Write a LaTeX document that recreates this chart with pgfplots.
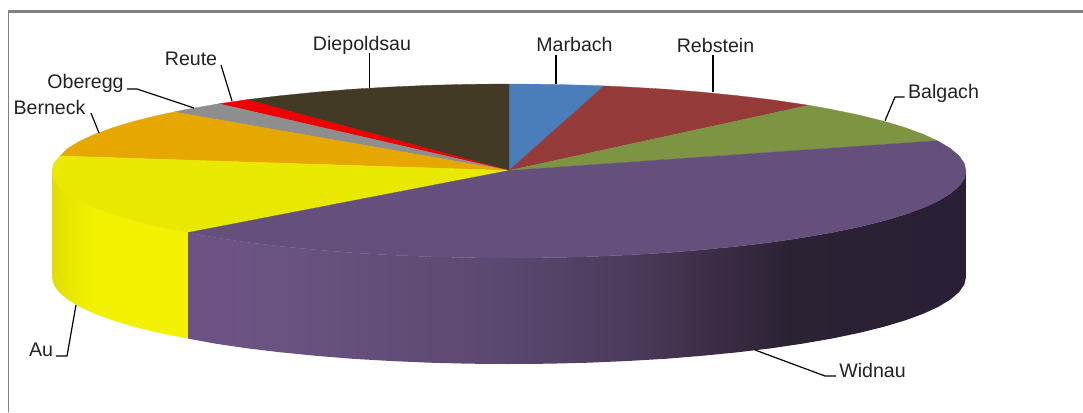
\documentclass[border=0pt]{standalone}
\usepackage{pgfplots}
\usepackage{fontspec}
\setmainfont{Liberation Sans}
\pgfplotsset{compat=1.18}
\definecolor{cMar}{HTML}{4A7EBB}
\definecolor{cReb}{HTML}{953B39}
\definecolor{cBal}{HTML}{7D9542}
\definecolor{cWid}{HTML}{654F7D}
\definecolor{cAu}{HTML}{E8E800}
\definecolor{cBer}{HTML}{E6A800}
\definecolor{cObe}{HTML}{8E8E8E}
\definecolor{cReu}{HTML}{EE0000}
\definecolor{cDie}{HTML}{433A26}
\definecolor{cTxt}{HTML}{222222}
\tikzset{lbl/.style={font=\fontsize{19.6}{23}\selectfont, text=cTxt, inner sep=0pt}}
\pgfdeclarehorizontalshading{widside}{100bp}{rgb(0bp)=(0.424,0.322,0.522); rgb(25bp)=(0.424,0.322,0.522); rgb(30.9bp)=(0.416,0.325,0.502); rgb(45bp)=(0.357,0.282,0.439); rgb(54bp)=(0.29,0.227,0.353); rgb(57.9bp)=(0.247,0.188,0.286); rgb(63.8bp)=(0.169,0.133,0.204); rgb(75bp)=(0.165,0.125,0.208); rgb(100bp)=(0.165,0.125,0.208)}
\pgfdeclarehorizontalshading{auside}{100bp}{rgb(0bp)=(0.87,0.87,0); rgb(25bp)=(0.87,0.87,0); rgb(34bp)=(0.92,0.92,0); rgb(41.5bp)=(0.95,0.95,0); rgb(100bp)=(0.95,0.95,0)}
\begin{document}
\begin{tikzpicture}
\begin{axis}[
  scale only axis, width=1083pt, height=412pt,
  xmin=0, xmax=1083, ymin=0, ymax=412, y dir=reverse,
  hide axis, no markers,
  every axis plot/.append style={forget plot, line join=round},
]
\path (axis cs:0,0) rectangle (axis cs:1083,412);
% frame
\addplot[color=black!50, line width=1.6pt] coordinates {(8.5,412) (8.5,11.5)};
\addplot[color=black!50, line width=2.6pt] coordinates {(7.7,11.5) (1083,11.5)};

% side walls
\addplot[draw=none, shading=auside] coordinates {(52,171)(53.7,178.6)(58.9,186.1)(67.6,193.5)(79.6,200.8)(94.8,207.8)(113.2,214.5)(134.6,220.9)(158.9,226.9)(188,232.6)(188,338.6)(158.9,332.9)(134.6,326.9)(113.2,320.5)(94.8,313.8)(79.6,306.8)(67.6,299.5)(58.9,292.1)(53.7,284.6)(52,277)(52,171)};
\addplot[draw=none, shading=widside] coordinates {(188,232.6)(215.2,237.6)(246.9,242.3)(280.5,246.3)(315.9,249.8)(352.7,252.8)(390.7,255)(429.6,256.7)(469.2,257.7)(509,258)(548.8,257.7)(588.4,256.7)(627.3,255)(665.3,252.8)(702.1,249.8)(737.5,246.3)(771.1,242.3)(802.8,237.6)(832.2,232.5)(859.1,226.9)(883.4,220.9)(904.8,214.5)(923.2,207.8)(938.4,200.8)(950.4,193.5)(959.1,186.1)(964.3,178.6)(966,171)(966,277)(964.3,284.6)(959.1,292.1)(950.4,299.5)(938.4,306.8)(923.2,313.8)(904.8,320.5)(883.4,326.9)(859.1,332.9)(832.2,338.5)(802.8,343.6)(771.1,348.3)(737.5,352.3)(702.1,355.8)(665.3,358.8)(627.3,361)(588.4,362.7)(548.8,363.7)(509,364)(469.2,363.7)(429.6,362.7)(390.7,361)(352.7,358.8)(315.9,355.8)(280.5,352.3)(246.9,348.3)(215.2,343.6)(188,338.6)(188,232.6)};

% top surface: slices
\addplot[fill=cMar, draw=cMar, line width=0.3pt] coordinates {(509,170.5)(509,84)(548.8,84.3)(588.4,85.3)(604,85.9)(509,170.5)};
\addplot[fill=cReb, draw=cReb, line width=0.3pt] coordinates {(509,170.5)(604,85.9)(627.3,87)(665.3,89.2)(702.1,92.2)(737.5,95.7)(771.1,99.7)(802.8,104.4)(808.8,105.3)(509,170.5)};
\addplot[fill=cBal, draw=cBal, line width=0.3pt] coordinates {(509,170.5)(808.8,105.3)(832.2,109.5)(859.1,115.1)(883.4,121.1)(904.8,127.5)(923.2,134.2)(937,140.7)(509,170.5)};
\addplot[fill=cDie, draw=cDie, line width=0.3pt] coordinates {(509,170.5)(246.9,99.7)(280.5,95.7)(315.9,92.2)(352.7,89.2)(390.7,87)(429.6,85.3)(469.2,84.3)(509,84)(509,170.5)};
\addplot[fill=cReu, draw=cReu, line width=0.3pt] coordinates {(509,170.5)(219,103.8)(246.9,99.7)(509,170.5)};
\addplot[fill=cObe, draw=cObe, line width=0.3pt] coordinates {(509,170.5)(174,112)(185.8,109.5)(215.2,104.4)(219,103.8)(509,170.5)};
\addplot[fill=cBer, draw=cBer, line width=0.3pt] coordinates {(509,170.5)(60,156)(67.6,148.5)(79.6,141.2)(94.8,134.2)(113.2,127.5)(134.6,121.1)(158.9,115.1)(174,112)(509,170.5)};
\addplot[fill=cAu, draw=cAu, line width=0.3pt] coordinates {(509,170.5)(188,232.6)(158.9,226.9)(134.6,220.9)(113.2,214.5)(94.8,207.8)(79.6,200.8)(67.6,193.5)(58.9,186.1)(53.7,178.6)(52,171)(53.7,163.4)(60,156)(509,170.5)};
\addplot[fill=cWid, draw=cWid, line width=0.3pt] coordinates {(509,170.5)(937,140.7)(938.4,141.2)(950.4,148.5)(959.1,155.9)(964.3,163.4)(966,171)(964.3,178.6)(959.1,186.1)(950.4,193.5)(938.4,200.8)(923.2,207.8)(904.8,214.5)(883.4,220.9)(859.1,226.9)(832.2,232.5)(802.8,237.6)(771.1,242.3)(737.5,246.3)(702.1,249.8)(665.3,252.8)(627.3,255)(588.4,256.7)(548.8,257.7)(509,258)(469.2,257.7)(429.6,256.7)(390.7,255)(352.7,252.8)(315.9,249.8)(280.5,246.3)(246.9,242.3)(215.2,237.6)(188,232.6)(509,170.5)};

% leader lines
\addplot[black, line width=1.2pt] coordinates {(556,55)(556,84)};
\addplot[black, line width=1.2pt] coordinates {(713,55)(713,92)};
\addplot[black, line width=1.2pt] coordinates {(904.5,97)(895,97)(885,120.7)};
\addplot[black, line width=1.2pt] coordinates {(369.7,53)(369.7,88)};
\addplot[black, line width=1.2pt] coordinates {(221,65)(232,101)};
\addplot[black, line width=1.2pt] coordinates {(127,89)(137,89)(194,108)};
\addplot[black, line width=1.2pt] coordinates {(91,113)(99,133)};
\addplot[black, line width=1.2pt] coordinates {(56,356)(67,356)(76,305)};
\addplot[black, line width=1.2pt] coordinates {(755,350)(825,376)(836,376)};

% labels
\node[lbl] at (axis cs:362,45) {Diepoldsau};
\node[lbl] at (axis cs:574.5,44.5) {Marbach};
\node[lbl] at (axis cs:715.5,45) {Rebstein};
\node[lbl] at (axis cs:943.5,93) {Balgach};
\node[lbl] at (axis cs:191,58.5) {Reute};
\node[lbl] at (axis cs:85.5,83.5) {Oberegg};
\node[lbl] at (axis cs:49.5,107.5) {Berneck};
\node[lbl] at (axis cs:41,350) {Au};
\node[lbl] at (axis cs:872.5,370.5) {Widnau};
\end{axis}
\end{tikzpicture}
\end{document}
